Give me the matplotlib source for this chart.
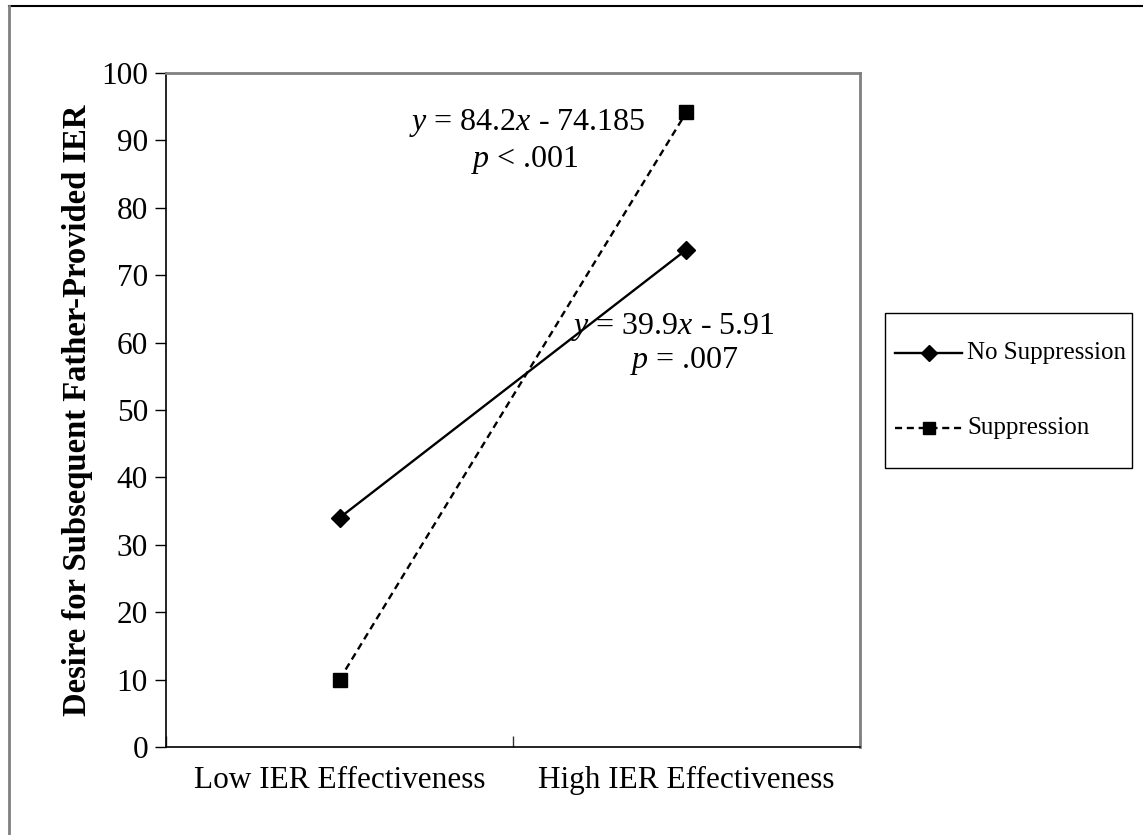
import matplotlib
matplotlib.use("Agg")
import matplotlib.pyplot as plt
from matplotlib.lines import Line2D
from matplotlib.patches import Rectangle

categories = ["Low IER Effectiveness", "High IER Effectiveness"]
no_suppression = [34.0, 73.8]
suppression = [10.0, 94.2]
series_names = ["No Suppression", "Suppression"]
y_ticks = list(range(0, 101, 10))

plt.rcParams['font.family'] = ['Liberation Serif', 'DejaVu Serif']
plt.rcParams['mathtext.fontset'] = 'custom'
plt.rcParams['mathtext.rm'] = 'Liberation Serif'
plt.rcParams['mathtext.it'] = 'Liberation Serif:italic'

W, H = 1143, 835
fig = plt.figure(figsize=(W/100, H/100), dpi=100)
ax = fig.add_axes([166/W, 1-747/H, (860-166)/W, (747-73)/H])

DASH = (0, (3, 2))
xpos = [0.5, 1.5]
ax.plot(xpos, no_suppression, color='black', lw=1.7, marker='D', markersize=9, label=series_names[0])
ax.plot(xpos, suppression, color='black', lw=1.7, ls=DASH, marker='s', markersize=10.5, label=series_names[1])

ax.set_xlim(0, 2)
ax.set_ylim(0, 100)
ax.set_yticks(y_ticks)
ax.set_xticks([0, 1, 2])
ax.set_xticklabels([])
ax.set_xticks(xpos, minor=True)
ax.set_xticklabels(categories, minor=True)
ax.tick_params(axis='x', which='minor', length=0, pad=14, labelsize=22.5)
ax.tick_params(axis='x', which='major', direction='in', length=8, width=1, color='#333333')
ax.tick_params(axis='y', direction='out', length=8, width=1, labelsize=22.5, pad=5)

for s in ['left', 'bottom']:
    ax.spines[s].set_color('black')
    ax.spines[s].set_linewidth(1.2)
for s in ['top', 'right']:
    ax.spines[s].set_color('#808080')
    ax.spines[s].set_linewidth(2)

ax.set_ylabel("Desire for Subsequent Father-Provided IER", fontsize=23.5, fontweight='bold', labelpad=6)

ax.text(1.04, 92.6, r"$y$ = 84.2$x$ - 74.185", ha='center', va='center', fontsize=23)
ax.text(1.035, 87.1, r"$p$ < .001", ha='center', va='center', fontsize=23)
ax.text(1.46, 62.3, r"$y$ = 39.9$x$ - 5.91", ha='center', va='center', fontsize=23)
ax.text(1.495, 57.2, r"$p$ = .007", ha='center', va='center', fontsize=23)

# legend drawn in figure pixel coordinates
def fx(px):
    return px / W
def fy(py):
    return 1 - py / H

fig.add_artist(Rectangle((fx(885), fy(468)), fx(1132) - fx(885), fy(313) - fy(468),
                         transform=fig.transFigure, facecolor='white', edgecolor='black', lw=1))
leg_rows = [353, 428]
leg_styles = [dict(ls='-', marker='D', ms=8), dict(ls=DASH, marker='s', ms=9)]
for name, row, st in zip(series_names, leg_rows, leg_styles):
    fig.add_artist(Line2D([fx(895), fx(962)], [fy(row), fy(row)], color='black', lw=1.7,
                          ls=st['ls'], transform=fig.transFigure))
    fig.add_artist(Line2D([fx(928.5)], [fy(row)], color='black', marker=st['marker'],
                          markersize=st['ms'], ls='none', transform=fig.transFigure))
    fig.text(fx(967), fy(row), name, ha='left', va='center', fontsize=18)

# outer chart border (cropped)
fig.add_artist(Line2D([9/W, 1], [1-6/H, 1-6/H], color='black', lw=1.5, transform=fig.transFigure))
fig.add_artist(Line2D([9/W, 9/W], [0, 1-6/H], color='#808080', lw=2, transform=fig.transFigure))

fig.savefig("out.png", dpi=100)
